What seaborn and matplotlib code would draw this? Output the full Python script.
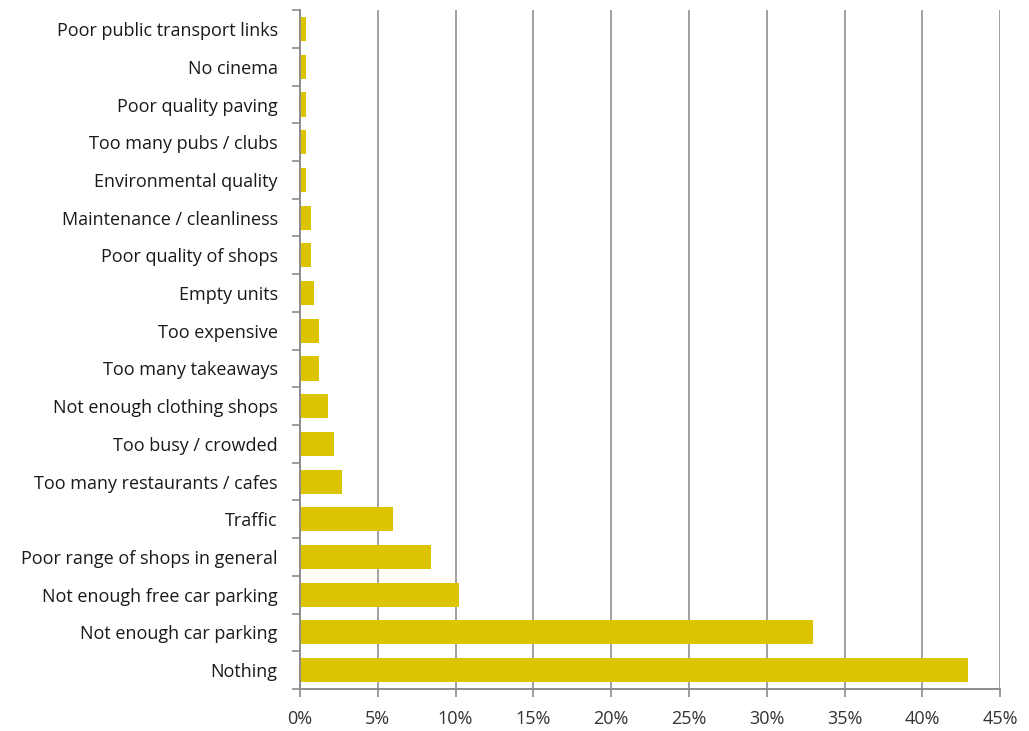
import matplotlib
matplotlib.use("Agg")
from matplotlib import pyplot as plt
from matplotlib.ticker import FixedLocator, PercentFormatter
import numpy as np
import pandas as pd
import seaborn as sns

# categories top to bottom, values in percent
categories = [
    "Poor public transport links",
    "No cinema",
    "Poor quality paving",
    "Too many pubs / clubs",
    "Environmental quality",
    "Maintenance / cleanliness",
    "Poor quality of shops",
    "Empty units",
    "Too expensive",
    "Too many takeaways",
    "Not enough clothing shops",
    "Too busy / crowded",
    "Too many restaurants / cafes",
    "Traffic",
    "Poor range of shops in general",
    "Not enough free car parking",
    "Not enough car parking",
    "Nothing",
]
values = [0.4, 0.4, 0.4, 0.4, 0.4, 0.7, 0.7, 0.9, 1.2, 1.2,
          1.8, 2.2, 2.7, 6.0, 8.4, 10.2, 33.0, 42.9]
x_ticks = [0, 5, 10, 15, 20, 25, 30, 35, 40, 45]

df = pd.DataFrame({"issue": categories, "pct": values})

sns.set_style("white")
plt.rcParams["font.family"] = ["Open Sans", "DejaVu Sans"]

fig = plt.figure(figsize=(10.29, 7.31), dpi=100)
ax = fig.add_axes([0.2915, 0.0575, 0.6805, 0.9285])

sns.barplot(data=df, x="pct", y="issue", order=categories, orient="h",
            color="#DCC400", saturation=1, width=0.64, linewidth=0, ax=ax)

ax.set_xlim(0, 45)
ax.set_ylim(len(categories) - 0.5, -0.5)
ax.xaxis.set_major_locator(FixedLocator(x_ticks))
ax.xaxis.set_major_formatter(PercentFormatter(decimals=0))
ax.grid(axis="x", color="#A0A0A0", linewidth=1.4)
ax.set_axisbelow(True)

for s in ["top", "right"]:
    ax.spines[s].set_visible(False)
for s in ["left", "bottom"]:
    ax.spines[s].set_color("#8C8C8C")
    ax.spines[s].set_linewidth(1.4)

# Excel style tick marks between categories
ax.yaxis.set_minor_locator(FixedLocator(np.arange(-0.5, len(categories), 1)))
ax.tick_params(axis="y", which="major", length=0, pad=16, labelsize=13,
               labelcolor="#1A1A1A")
ax.tick_params(axis="y", which="minor", length=6, width=1.2, color="#8C8C8C",
               direction="out", left=True)
ax.tick_params(axis="x", which="major", length=6, width=1.2, color="#8C8C8C",
               direction="out", bottom=True, labelsize=13, labelcolor="#333333",
               pad=9)
ax.set_xlabel("")
ax.set_ylabel("")

fig.savefig("out.png", dpi=100, facecolor="white")
